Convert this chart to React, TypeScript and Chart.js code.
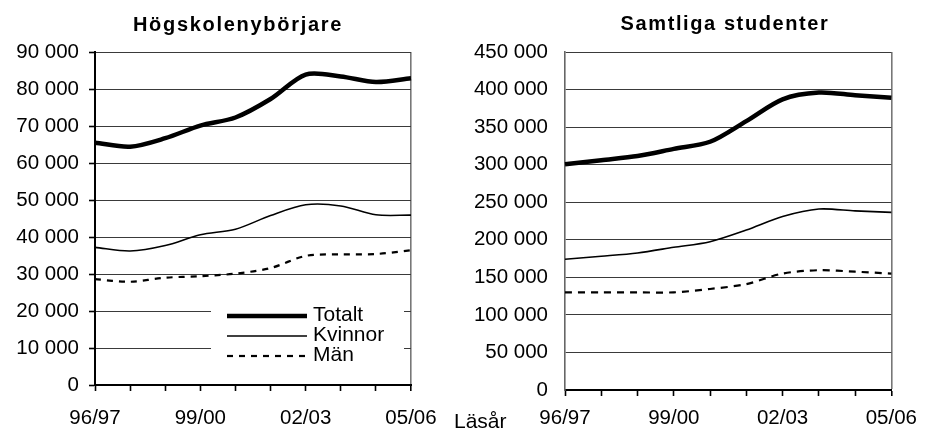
import React, { useEffect, useRef } from "react";
import { Chart, registerables } from "chart.js";

Chart.register(...registerables);

const categories = ["96/97", "97/98", "98/99", "99/00", "00/01", "01/02", "02/03", "03/04", "04/05", "05/06"];
const shownLabels = ["96/97", "99/00", "02/03", "05/06"];
const seriesNames = ["Totalt", "Kvinnor", "Män"];

const nyTotalt = [65500, 64400, 66700, 70100, 72300, 77300, 83900, 83400, 81900, 82900];
const nyKvinnor = [37200, 36200, 37700, 40600, 42100, 45800, 48700, 48400, 46000, 45900];
const nyMan = [28600, 27900, 29000, 29400, 30100, 31600, 34900, 35300, 35400, 36400];

const stTotalt = [300500, 306000, 311500, 321000, 330500, 358000, 387000, 396000, 392500, 389000];
const stKvinnor = [174000, 178000, 182500, 190000, 197500, 213000, 231000, 241000, 238500, 236500];
const stMan = [130000, 130000, 130000, 130000, 134500, 141000, 155000, 159500, 157500, 155000];

const nyAxis = { min: 0, max: 90000, step: 10000 };
const stAxis = { min: 0, max: 450000, step: 50000 };

const FONT = '"Liberation Sans", Arial, sans-serif';

const fmt = (v: number) => String(v).replace(/\B(?=(\d{3})+(?!\d))/g, " ");

const spacedTitle = {
  id: "spacedTitle",
  afterDraw(chart: any, _args: any, opts: any) {
    if (!opts || !opts.text) return;
    const ctx = chart.ctx;
    ctx.save();
    ctx.font = `bold 20px ${FONT}`;
    (ctx as any).letterSpacing = opts.spacing || "0px";
    ctx.fillStyle = "#000";
    ctx.textAlign = "center";
    ctx.textBaseline = "alphabetic";
    ctx.fillText(opts.text, opts.x, opts.y);
    ctx.restore();
  },
};

const innerLegend = {
  id: "innerLegend",
  afterDraw(chart: any, _args: any, opts: any) {
    if (!opts || !opts.show) return;
    const ctx = chart.ctx;
    ctx.save();
    ctx.fillStyle = "#fff";
    ctx.fillRect(opts.boxX, opts.boxY, opts.boxW, opts.boxH);
    ctx.font = `21px ${FONT}`;
    ctx.textBaseline = "middle";
    ctx.textAlign = "left";
    chart.data.datasets.forEach((ds: any, i: number) => {
      const y = opts.firstY + i * opts.rowH;
      ctx.beginPath();
      ctx.strokeStyle = "#000";
      ctx.lineWidth = ds.borderWidth;
      ctx.setLineDash(ds.borderDash || []);
      ctx.moveTo(opts.lineX, y);
      ctx.lineTo(opts.lineX + opts.lineW, y);
      ctx.stroke();
      ctx.setLineDash([]);
      ctx.fillStyle = "#000";
      ctx.fillText(ds.label, opts.lineX + opts.lineW + 6, y - 1);
    });
    ctx.restore();
  },
};

function makeConfig(p: {
  totalt: number[];
  kvinnor: number[];
  man: number[];
  axis: { min: number; max: number; step: number };
  yWidth: number;
  xHeight: number;
  padRight: number;
  yTicks: boolean;
  yBorderColor: string;
  xLabelPad: number;
  dash: number[];
  title: any;
  legend: any;
}) {
  const last = categories.length - 1;
  return {
    type: "line",
    data: {
      labels: categories,
      datasets: [
        { label: seriesNames[0], data: p.totalt, borderColor: "#000", borderWidth: 4.5, tension: 0.3, pointRadius: 0, fill: false },
        { label: seriesNames[1], data: p.kvinnor, borderColor: "#000", borderWidth: 1.6, tension: 0.3, pointRadius: 0, fill: false },
        { label: seriesNames[2], data: p.man, borderColor: "#000", borderWidth: 2.2, borderDash: p.dash, tension: 0.3, pointRadius: 0, fill: false },
      ],
    },
    options: {
      animation: false,
      responsive: false,
      events: [],
      layout: { padding: { top: 52, right: p.padRight, left: 0, bottom: 0 } },
      plugins: {
        legend: { display: false },
        title: { display: false },
        tooltip: { enabled: false },
        spacedTitle: p.title,
        innerLegend: p.legend,
      },
      scales: {
        x: {
          type: "category",
          offset: false,
          afterFit: (s: any) => { s.height = p.xHeight; },
          border: { display: true, color: "#000", width: 2 },
          grid: {
            display: true,
            drawOnChartArea: true,
            color: (c: any) => (c.index === last ? "#777" : "rgba(0,0,0,0)"),
            lineWidth: (c: any) => (c.index === last ? 1.6 : 1),
            drawTicks: true,
            tickLength: 6,
            tickColor: "#000",
            tickWidth: 1.6,
          },
          ticks: {
            autoSkip: false,
            maxRotation: 0,
            minRotation: 0,
            padding: p.xLabelPad,
            color: "#000",
            font: { family: FONT, size: 20.5 },
            callback: (_v: any, i: number) => (shownLabels.includes(categories[i]) ? categories[i] : ""),
          },
        },
        y: {
          min: p.axis.min,
          max: p.axis.max,
          afterFit: (s: any) => { s.width = p.yWidth; },
          border: { display: true, color: p.yBorderColor, width: p.yTicks ? 2 : 1.6 },
          grid: {
            color: "#3a3a3a",
            lineWidth: 1,
            drawTicks: p.yTicks,
            tickLength: 6,
            tickColor: "#000",
            tickWidth: 1.6,
          },
          ticks: {
            stepSize: p.axis.step,
            padding: p.yTicks ? 10 : 17,
            color: "#000",
            font: { family: FONT, size: 20.5 },
            callback: (v: any) => fmt(Number(v)),
          },
        },
      },
    },
    plugins: [spacedTitle, innerLegend],
  } as any;
}

function Panel(props: { config: any; left: number; width: number }) {
  const ref = useRef<HTMLCanvasElement | null>(null);
  useEffect(() => {
    if (!ref.current) return;
    const chart = new Chart(ref.current, props.config);
    return () => chart.destroy();
  }, []);
  return (
    <canvas
      ref={ref}
      width={props.width}
      height={428}
      style={{ position: "absolute", left: props.left, top: 0, width: props.width, height: 428 }}
    />
  );
}

export default function App() {
  Chart.defaults.font.family = FONT;
  const leftCfg = makeConfig({
    totalt: nyTotalt,
    kvinnor: nyKvinnor,
    man: nyMan,
    axis: nyAxis,
    yWidth: 95,
    xHeight: 43,
    padRight: 49,
    yTicks: true,
    yBorderColor: "#000",
    xLabelPad: 15,
    dash: [6, 6],
    title: { text: "Högskolenybörjare", x: 238, y: 31, spacing: "1.7px" },
    legend: { show: true, boxX: 211, boxY: 302, boxW: 193, boxH: 66, lineX: 227, lineW: 80, firstY: 316, rowH: 20 },
  });
  const rightCfg = makeConfig({
    totalt: stTotalt,
    kvinnor: stKvinnor,
    man: stMan,
    axis: stAxis,
    yWidth: 125,
    xHeight: 38,
    padRight: 28.5,
    yTicks: false,
    yBorderColor: "#666",
    xLabelPad: 10,
    dash: [7, 6],
    title: { text: "Samtliga studenter", x: 285, y: 30, spacing: "1.6px" },
    legend: { show: false },
  });
  return (
    <div style={{ position: "absolute", left: 0, top: 0, width: 927, height: 428, background: "#fff", overflow: "hidden" }}>
      <Panel config={leftCfg} left={0} width={460} />
      <Panel config={rightCfg} left={440} width={487} />
      <div
        style={{
          position: "absolute",
          left: 454,
          top: 410,
          fontFamily: FONT,
          fontSize: 21,
          lineHeight: "21px",
          color: "#000",
          whiteSpace: "nowrap",
        }}
      >
        Läsår
      </div>
    </div>
  );
}
